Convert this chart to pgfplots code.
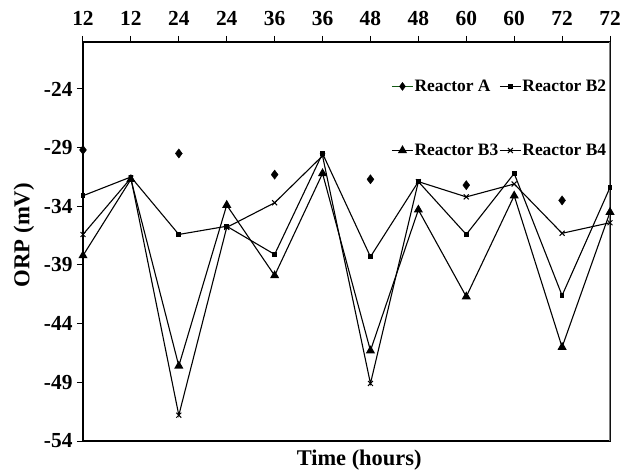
\documentclass[border=0pt]{standalone}
\usepackage{pgfplots}
\pgfplotsset{compat=1.18}
\usepackage{fontspec}
\setmainfont{Liberation Serif}
\definecolor{legA}{RGB}{20,90,20}
\begin{document}
\begin{tikzpicture}
\begin{axis}[
  scale only axis, width=527bp, height=399bp,
  xmin=0, xmax=11, ymin=-54, ymax=-20,
  xtick={0,...,11},
  xticklabels={12,12,24,24,36,36,48,48,60,60,72,72},
  ytick={-54,-49,-44,-39,-34,-29,-24},
  yticklabels={-54,-49,-44,-39,-34,-29,-24},
  xtick pos=right, xticklabel pos=right, ytick pos=left,
  tick align=outside, major tick length=6bp,
  tick style={black, line width=1bp},
  axis line style={black, line width=1.2bp},
  xticklabel style={font=\bfseries\fontsize{21.5}{25}\selectfont, yshift=7bp},
  yticklabel style={font=\bfseries\fontsize{21.5}{25}\selectfont, xshift=-1bp},
  xlabel={Time (hours)},
  xlabel style={font=\bfseries\fontsize{22.5}{26}\selectfont, at={(axis description cs:0.524,0)}, anchor=north, yshift=-9bp, inner sep=0pt},
  ylabel={ORP (mV)},
  ylabel style={font=\bfseries\fontsize{22.8}{26}\selectfont, at={(axis description cs:-0.112,0.516)}, anchor=center, rotate=0},
  legend columns=2,
  legend cell align=left,
  legend style={draw=none, fill=none, font=\bfseries\fontsize{17.5}{21}\selectfont,
    at={(axis description cs:0.995,0.908)}, anchor=north east, row sep=49bp, column sep=0bp,
    inner sep=0pt, nodes={inner sep=1pt}},
  legend image code/.code={\draw[mark repeat=2,mark phase=2] plot coordinates {(0bp,0bp)(10.5bp,0bp)(21bp,0bp)};},
]
\addplot[only marks, mark=diamond*, mark size=4.6bp, black,
  legend image code/.code={\draw[legA,line width=1.2bp] (0bp,0bp)--(21bp,0bp); \draw[black] plot[only marks, mark=diamond*, mark size=4bp] coordinates {(10.5bp,0bp)};}]
  coordinates {(0,-29.2) (2,-29.5) (4,-31.3) (6,-31.7) (8,-32.2) (10,-33.5)};
\addlegendentry{Reactor A\,}
\addplot[black, line width=1.1bp, mark=square*, mark size=1.8bp]
  coordinates {(0,-33.1) (1,-31.5) (2,-36.4) (3,-35.7) (4,-38.1) (5,-29.5) (6,-38.3) (7,-31.9) (8,-36.4) (9,-31.2) (10,-41.6) (11,-32.4)};
\addlegendentry{Reactor B2}
\addplot[black, line width=1.1bp, mark=triangle*, mark size=4.2bp]
  coordinates {(0,-38.2) (1,-31.7) (2,-47.6) (3,-33.9) (4,-39.9) (5,-31.2) (6,-46.3) (7,-34.3) (8,-41.7) (9,-33.1) (10,-46.0) (11,-34.5)};
\addlegendentry{Reactor B3}
\addplot[black, line width=1.1bp, mark=x, mark size=3.5bp, mark options={line width=1bp}]
  coordinates {(0,-36.4) (1,-31.6) (2,-51.8) (3,-35.8) (4,-33.7) (5,-29.7) (6,-49.1) (7,-31.9) (8,-33.2) (9,-32.1) (10,-36.3) (11,-35.4)};
\addlegendentry{Reactor B4}
\draw[gray, line width=1.4bp] (rel axis cs:1,0) -- (rel axis cs:1,1);
\end{axis}
\pgfresetboundingbox
\path[use as bounding box] ([xshift=-83bp,yshift=-33bp]current axis.south west) rectangle ++(624bp,474bp);
\end{tikzpicture}
\end{document}
